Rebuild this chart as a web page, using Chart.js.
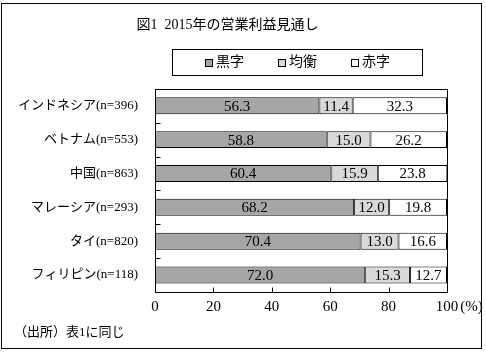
<!DOCTYPE html>
<html lang="ja">
<head>
<meta charset="UTF-8">
<title>図1 2015年の営業利益見通し</title>
<script src="https://cdn.jsdelivr.net/npm/chart.js@4.4.1/dist/chart.umd.min.js"></script>
<style>
    html, body { margin: 0; padding: 0; background: #fff; }
    canvas { display: block; }
</style>
</head>
<body>
<canvas id="chart" width="486" height="353"></canvas>
<script>
// データ（%）
const countries = ['インドネシア(n=396)', 'ベトナム(n=553)', '中国(n=863)', 'マレーシア(n=293)', 'タイ(n=820)', 'フィリピン(n=118)'];
const kuroji = [56.3, 58.8, 60.4, 68.2, 70.4, 72.0];
const kinko  = [11.4, 15.0, 15.9, 12.0, 13.0, 15.3];
const akaji  = [32.3, 26.2, 23.8, 19.8, 16.6, 12.7];
const seriesNames = ['黒字', '均衡', '赤字'];
const xTicks = [0, 20, 40, 60, 80, 100];
const titleText = '図1  2015年の営業利益見通し';
const sourceText = '（出所）表1に同じ';

const FONT = '"Liberation Serif", "Noto Sans CJK JP", sans-serif';

// 枠線・内向きの目盛・(%)・出所
const framePlugin = {
    id: 'frame',
    afterDraw(chart) {
        const ctx = chart.ctx, a = chart.chartArea;
        const xs = chart.scales.x, ys = chart.scales.y;
        ctx.save();
        ctx.strokeStyle = '#000';
        ctx.lineWidth = 1;
        ctx.strokeRect(1.5, 3.5, 480, 345);

        const l = Math.round(a.left) + 0.5, t = Math.round(a.top) + 0.5;
        const r = Math.round(a.right) + 0.5, b = Math.round(a.bottom) + 0.5;
        ctx.strokeRect(l, t, r - l, b - t);

        ctx.beginPath();
        xTicks.slice(1, -1).forEach(v => {
            const px = Math.round(xs.getPixelForValue(v)) + 0.5;
            ctx.moveTo(px, b);
            ctx.lineTo(px, b - 5);
        });
        for (let i = 1; i < countries.length; i++) {
            const py = Math.round((ys.getPixelForValue(i - 1) + ys.getPixelForValue(i)) / 2) + 0.5;
            ctx.moveTo(l, py);
            ctx.lineTo(l + 5, py);
        }
        ctx.stroke();

        ctx.fillStyle = '#000';
        ctx.textBaseline = 'middle';
        ctx.textAlign = 'left';
        ctx.font = '15px ' + FONT;
        const last = xTicks[xTicks.length - 1];
        const w = ctx.measureText(String(last)).width;
        ctx.fillText('(%)', xs.getPixelForValue(last) + w / 2 + 2, xs.top + 6 + 9);

        ctx.font = '13px ' + FONT;
        ctx.fillText(sourceText, 14, 333);
        ctx.restore();
    }
};

// 凡例（枠付き）
const legendPlugin = {
    id: 'boxLegend',
    afterDraw(chart) {
        const ctx = chart.ctx, a = chart.chartArea;
        ctx.save();
        ctx.font = '14px ' + FONT;
        ctx.strokeStyle = '#000';
        ctx.lineWidth = 1;
        const box = 8, gap = 3, space = 34;
        const items = chart.data.datasets.map(ds => ({
            text: ds.label,
            color: ds.backgroundColor,
            w: box + gap + ctx.measureText(ds.label).width
        }));
        const total = items.reduce((s, it) => s + it.w, 0) + space * (items.length - 1);
        const cx = (a.left + a.right) / 2 - 4;
        ctx.strokeRect(Math.round(cx - 125) + 0.5, 49.5, 250, 26);
        let x = Math.round(cx - total / 2);
        items.forEach(it => {
            ctx.fillStyle = it.color;
            ctx.fillRect(x + 0.5, 59.5, 7, 7);
            ctx.strokeRect(x + 0.5, 59.5, 7, 7);
            ctx.fillStyle = '#000';
            ctx.textAlign = 'left';
            ctx.textBaseline = 'middle';
            ctx.fillText(it.text, x + box + gap, 62.5);
            x += it.w + space;
        });
        ctx.restore();
    }
};

// 棒の中の数値
const valuePlugin = {
    id: 'values',
    afterDatasetsDraw(chart) {
        const ctx = chart.ctx;
        ctx.save();
        ctx.font = '15px ' + FONT;
        ctx.fillStyle = '#000';
        ctx.textAlign = 'center';
        ctx.textBaseline = 'middle';
        chart.data.datasets.forEach((ds, i) => {
            chart.getDatasetMeta(i).data.forEach((bar, j) => {
                ctx.fillText(ds.data[j].toFixed(1), (bar.x + bar.base) / 2, bar.y + 1);
            });
        });
        ctx.restore();
    }
};

const barStyle = {
    borderColor: '#000',
    borderWidth: 1,
    borderSkipped: false,
    barPercentage: 0.5,
    categoryPercentage: 1.0
};

new Chart(document.getElementById('chart'), {
    type: 'bar',
    data: {
        labels: countries,
        datasets: [
            Object.assign({ label: seriesNames[0], data: kuroji, backgroundColor: '#a6a6a6' }, barStyle),
            Object.assign({ label: seriesNames[1], data: kinko, backgroundColor: '#d9d9d9' }, barStyle),
            Object.assign({ label: seriesNames[2], data: akaji, backgroundColor: '#ffffff' }, barStyle)
        ]
    },
    options: {
        indexAxis: 'y',
        responsive: false,
        animation: false,
        layout: { padding: { left: 8, right: 39, top: 0, bottom: 0 } },
        plugins: {
            legend: { display: false },
            tooltip: { enabled: false },
            title: {
                display: true,
                text: titleText,
                color: '#000',
                font: { family: FONT, size: 14, weight: 'normal' },
                padding: { top: 17, bottom: 55 }
            }
        },
        scales: {
            x: {
                stacked: true,
                min: xTicks[0],
                max: xTicks[xTicks.length - 1],
                ticks: { stepSize: xTicks[1] - xTicks[0], padding: 6, color: '#000', font: { family: FONT, size: 15 } },
                grid: { display: false, drawTicks: false },
                border: { display: false },
                afterFit: s => { s.height = 61; }
            },
            y: {
                stacked: true,
                ticks: { padding: 17, color: '#000', font: { family: FONT, size: 13 } },
                grid: { display: false, drawTicks: false },
                border: { display: false },
                afterFit: s => { s.width = 147; }
            }
        }
    },
    plugins: [valuePlugin, legendPlugin, framePlugin]
});
</script>
</body>
</html>
